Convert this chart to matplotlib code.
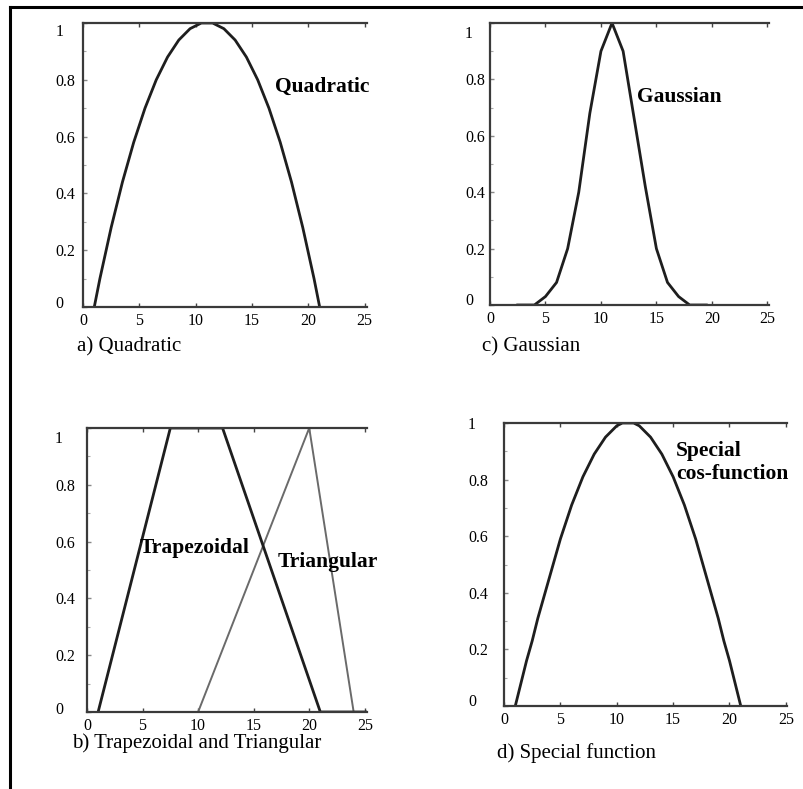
"""Four membership function shapes (quadratic, gaussian, trapezoid/triangle, cos)."""

import matplotlib

matplotlib.use("Agg")
import matplotlib.pyplot as plt
import matplotlib.transforms as mtransforms
from matplotlib.lines import Line2D

plt.rcParams["font.family"] = ["Liberation Serif", "DejaVu Serif"]

W, H = 804, 789

# a) quadratic, read every half unit
quad_x = [1, 1.5, 2, 2.5, 3, 3.5, 4, 4.5, 5, 5.5, 6, 6.5, 7, 7.5, 8, 8.5, 9, 9.5, 10, 10.5,
          11, 11.5, 12, 12.5, 13, 13.5, 14, 14.5, 15, 15.5, 16, 16.5, 17, 17.5, 18, 18.5,
          19, 19.5, 20, 20.5, 21]
quad_y = [0, 0.1, 0.19, 0.28, 0.36, 0.44, 0.51, 0.58, 0.64, 0.7, 0.75, 0.8, 0.84, 0.88,
          0.91, 0.94, 0.96, 0.98, 0.99, 1.0, 1.0, 1.0, 0.99, 0.98, 0.96, 0.94, 0.91, 0.88,
          0.84, 0.8, 0.75, 0.7, 0.64, 0.58, 0.51, 0.44, 0.36, 0.28, 0.19, 0.1, 0]

# c) gaussian
gauss_x = [2.5, 4, 5, 6, 7, 8, 9, 10, 11, 12, 13, 14, 15, 16, 17, 18, 19.5]
gauss_y = [0, 0, 0.03, 0.08, 0.2, 0.4, 0.68, 0.9, 1.0, 0.9, 0.66, 0.42, 0.2, 0.08, 0.03, 0, 0]

# b) trapezoidal and triangular
trap_x = [1, 7.5, 12.2, 21, 25.2]
trap_y = [0, 1, 1, 0, 0]
tri_x = [10, 20, 24]
tri_y = [0, 1, 0]

# d) special cos-function, read every half unit
cos_x = quad_x
cos_y = [0, 0.08, 0.16, 0.23, 0.31, 0.38, 0.45, 0.52, 0.59, 0.65, 0.71, 0.76, 0.81, 0.85,
         0.89, 0.92, 0.95, 0.97, 0.99, 1.0, 1.0, 1.0, 0.99, 0.97, 0.95, 0.92, 0.89, 0.85,
         0.81, 0.76, 0.71, 0.65, 0.59, 0.52, 0.45, 0.38, 0.31, 0.23, 0.16, 0.08, 0]

x_ticks = [0, 5, 10, 15, 20, 25]
y_ticks = [0, 0.2, 0.4, 0.6, 0.8, 1]
y_tick_labels = ["0", "0.2", "0.4", "0.6", "0.8", "1"]


def px_axes(fig, left, top, right, bottom):
    return fig.add_axes([left / W, 1 - bottom / H, (right - left) / W, (bottom - top) / H])


def style_axes(fig, ax, xmax, ypad, top_shift, bottom_shift):
    ax.set_xlim(0, xmax)
    ax.set_ylim(0, 1)
    ax.set_xticks(x_ticks)
    ax.set_yticks(y_ticks)
    ax.set_yticklabels(y_tick_labels)
    ax.set_yticks([0.1, 0.3, 0.5, 0.7, 0.9], minor=True)
    ax.spines["right"].set_visible(False)
    for side in ("left", "top", "bottom"):
        ax.spines[side].set_linewidth(1.6)
        ax.spines[side].set_color("#3a3a3a")
    ax.tick_params(axis="x", direction="in", length=3, width=1, top=True,
                   labelsize=11.5, pad=4, color="#444444")
    ax.tick_params(axis="y", which="major", direction="in", length=3, width=1,
                   labelsize=11.5, pad=ypad, color="#888888")
    ax.tick_params(axis="y", which="minor", direction="in", length=2, width=0.8,
                   color="#aaaaaa")
    labels = ax.get_yticklabels()
    for lbl in labels:
        lbl.set_horizontalalignment("left")
    # the end labels sit a little inside the axis range in the original
    labels[-1].set_transform(labels[-1].get_transform() + mtransforms.ScaledTranslation(
        0, -top_shift / 100, fig.dpi_scale_trans))
    labels[0].set_transform(labels[0].get_transform() + mtransforms.ScaledTranslation(
        0, bottom_shift / 100, fig.dpi_scale_trans))


fig = plt.figure(figsize=(W / 100, H / 100), dpi=100)

line_kw = dict(color="#1e1e1e", lw=2.0, solid_joinstyle="round")
bold_kw = dict(fontsize=15.5, fontweight="bold", va="center", ha="left")
cap_kw = dict(fontsize=15, va="center", ha="left")

# a) Quadratic
ax = px_axes(fig, 83, 23, 367, 307)
style_axes(fig, ax, 25.2, 20, 7, 5)
ax.plot(quad_x, quad_y, **line_kw)
fig.text(275 / W, 1 - 87 / H, "Quadratic", **bold_kw)
fig.text(77 / W, 1 - 347 / H, "a) Quadratic", **cap_kw)

# c) Gaussian
ax = px_axes(fig, 490, 23, 769, 305)
style_axes(fig, ax, 25.15, 18, 9, 6)
ax.plot(gauss_x, gauss_y, **line_kw)
fig.text(637 / W, 1 - 97 / H, "Gaussian", **bold_kw)
fig.text(482 / W, 1 - 347 / H, "c) Gaussian", **cap_kw)

# b) Trapezoidal and Triangular
ax = px_axes(fig, 87, 428, 367, 712)
style_axes(fig, ax, 25.2, 23, 9, 4)
ax.plot(tri_x, tri_y, color="#6a6a6a", lw=1.4)
ax.plot(trap_x, trap_y, **line_kw)
fig.text(140 / W, 1 - 548 / H, "Trapezoidal", **bold_kw)
fig.text(278 / W, 1 - 562 / H, "Triangular", **bold_kw)
fig.text(72 / W, 1 - 743 / H, "b) Trapezoidal and Triangular", **cap_kw)

# d) Special function
ax = px_axes(fig, 504, 423, 787, 706)
style_axes(fig, ax, 25.1, 26, 0, 6)
ax.plot(cos_x, cos_y, **line_kw)
fig.text(676 / W, 1 - 451 / H, "Special", **bold_kw)
fig.text(676 / W, 1 - 474 / H, "cos-function", **bold_kw)
fig.text(497 / W, 1 - 753 / H, "d) Special function", **cap_kw)

# frame around the figure (left and top only)
fig.add_artist(Line2D([9.7 / W, 9.7 / W], [0, 1 - 7 / H], transform=fig.transFigure,
                      color="black", lw=2.2))
fig.add_artist(Line2D([9.7 / W, 1], [1 - 7 / H, 1 - 7 / H], transform=fig.transFigure,
                      color="black", lw=2.2))

fig.savefig("out.png", dpi=100)
